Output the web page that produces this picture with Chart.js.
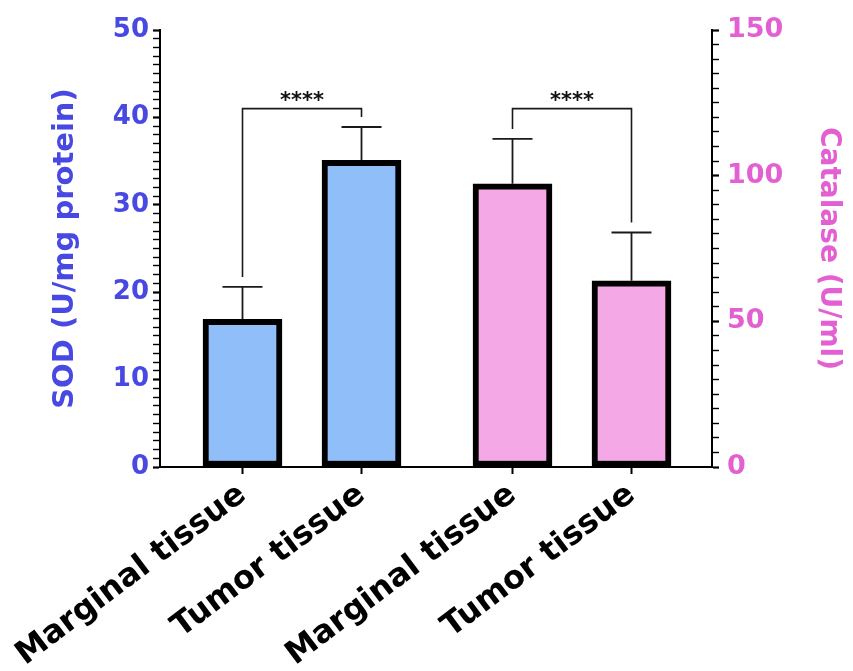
<!DOCTYPE html>
<html>
<head>
<meta charset="utf-8">
<script src="https://cdn.jsdelivr.net/npm/chart.js@4.4.1/dist/chart.umd.min.js"></script>
<style>
  html, body { margin: 0; padding: 0; background: #fff; }
  #wrap { width: 853px; height: 671px; position: relative; }
</style>
</head>
<body>
<div id="wrap"><canvas id="c"></canvas></div>
<script>
// data
const tissueLabels = ['Marginal tissue', 'Tumor tissue', 'Marginal tissue', 'Tumor tissue'];
const slotPositions = [0.825, 2.015, 3.525, 4.715]; // where each bar sits on the x axis
const sodMean = [16.9, 35.1];
const sodSD = [3.7, 3.8];
const catalaseMean = [97.2, 63.9];
const catalaseSD = [15.4, 16.6];
const sigLabels = ['****', '****'];
const sigLevelSOD = 41;        // bracket height, left axis units
const sigLevelCatalase = 123;  // bracket height, right axis units

const BLUE = 'rgb(72,72,226)';
const PINK = 'rgb(226,96,210)';
const FONT = 'DejaVu Sans';

Chart.defaults.font.family = FONT;

// error bars (mean + SD, upper only)
const errorBars = {
    id: 'errorBars',
    afterDatasetsDraw(chart) {
        const ctx = chart.ctx;
        const sets = [[sodMean, sodSD, 'y'], [catalaseMean, catalaseSD, 'y2']];
        ctx.save();
        ctx.strokeStyle = '#1a1a1a';
        ctx.lineWidth = 1.8;
        sets.forEach(([mean, sd, axis], di) => {
            const meta = chart.getDatasetMeta(di);
            const ys = chart.scales[axis];
            mean.forEach((m, i) => {
                const x = meta.data[i].x;
                const yTop = ys.getPixelForValue(m + sd[i]);
                const yBar = ys.getPixelForValue(m);
                ctx.beginPath();
                ctx.moveTo(x, yBar);
                ctx.lineTo(x, yTop);
                ctx.moveTo(x - 20, yTop);
                ctx.lineTo(x + 20, yTop);
                ctx.stroke();
            });
        });
        ctx.restore();
    }
};

// significance brackets
const sigBrackets = {
    id: 'sigBrackets',
    afterDatasetsDraw(chart) {
        const ctx = chart.ctx;
        const sets = [
            [sodMean, sodSD, 'y', sigLevelSOD],
            [catalaseMean, catalaseSD, 'y2', sigLevelCatalase]
        ];
        ctx.save();
        ctx.strokeStyle = '#1a1a1a';
        ctx.lineWidth = 1.6;
        ctx.fillStyle = '#111';
        ctx.font = 'bold 21px ' + FONT;
        ctx.textAlign = 'center';
        ctx.textBaseline = 'alphabetic';
        sets.forEach(([mean, sd, axis, level], di) => {
            const meta = chart.getDatasetMeta(di);
            const ys = chart.scales[axis];
            const yb = ys.getPixelForValue(level);
            const x0 = meta.data[0].x, x1 = meta.data[1].x;
            const e0 = ys.getPixelForValue(mean[0] + sd[0]) - 10;
            const e1 = ys.getPixelForValue(mean[1] + sd[1]) - 10;
            ctx.beginPath();
            ctx.moveTo(x0, e0);
            ctx.lineTo(x0, yb);
            ctx.lineTo(x1, yb);
            ctx.lineTo(x1, e1);
            ctx.stroke();
            ctx.fillText(sigLabels[di], (x0 + x1) / 2, yb - 2);
        });
        ctx.restore();
    }
};

new Chart(document.getElementById('c'), {
    type: 'bar',
    data: {
        datasets: [
            {
                label: 'SOD',
                data: sodMean.map((v, i) => ({ x: slotPositions[i], y: v })),
                yAxisID: 'y',
                backgroundColor: 'rgb(144,190,248)',
                borderColor: '#000',
                borderWidth: 6,
                borderSkipped: false
            },
            {
                label: 'Catalase',
                data: catalaseMean.map((v, i) => ({ x: slotPositions[i + 2], y: v })),
                yAxisID: 'y2',
                backgroundColor: 'rgb(245,168,230)',
                borderColor: '#000',
                borderWidth: 6,
                borderSkipped: false
            }
        ]
    },
    options: {
        responsive: true,
        maintainAspectRatio: false,
        animation: false,
        grouped: false,
        barThickness: 79,
        layout: { padding: { top: 30, left: 0, right: 0, bottom: 0 } },
        plugins: {
            legend: { display: false },
            tooltip: { enabled: false }
        },
        scales: {
            x: {
                type: 'linear',
                min: 0,
                max: 5.52,
                offset: false,
                afterBuildTicks: s => { s.ticks = slotPositions.map(v => ({ value: v })); },
                afterFit: s => { s.height = 204; s.paddingLeft = 0; s.paddingRight = 0; },
                ticks: {
                    autoSkip: false,
                    minRotation: 37,
                    maxRotation: 37,
                    padding: 2,
                    color: '#000',
                    font: { size: 32, weight: 'bold' },
                    callback: (v, i) => tissueLabels[i]
                },
                grid: { offset: false, drawOnChartArea: false, tickLength: 7, tickWidth: 2, tickColor: '#000' },
                border: { color: '#000', width: 2 }
            },
            y: {
                position: 'left',
                min: 0,
                max: 50,
                afterFit: s => { s.width = 160; },
                ticks: {
                    stepSize: 1,
                    autoSkip: false,
                    padding: 4,
                    color: BLUE,
                    font: { size: 26, weight: 'bold' },
                    callback: v => (v % 10 === 0 ? v : '')
                },
                grid: {
                    drawOnChartArea: false,
                    tickLength: 7,
                    tickColor: '#000',
                    tickWidth: c => (c.tick && c.tick.value % 10 === 0 ? 2.2 : 1.4)
                },
                border: { color: '#000', width: 2 },
                title: {
                    display: true,
                    text: 'SOD (U/mg protein)',
                    color: BLUE,
                    font: { size: 29, weight: 'bold' },
                    padding: { top: 48, bottom: 0 }
                }
            },
            y2: {
                position: 'right',
                min: 0,
                max: 150,
                afterFit: s => { s.width = 141; },
                ticks: {
                    stepSize: 5,
                    autoSkip: false,
                    padding: 8,
                    color: PINK,
                    font: { size: 27, weight: 'bold' },
                    callback: v => (v % 50 === 0 ? v : '')
                },
                grid: {
                    drawOnChartArea: false,
                    tickLength: 7,
                    tickColor: '#000',
                    tickWidth: c => (c.tick && c.tick.value % 50 === 0 ? 2.2 : 1.4)
                },
                border: { color: '#000', width: 2 },
                title: {
                    display: true,
                    text: 'Catalase (U/ml)',
                    color: PINK,
                    font: { size: 28, weight: 'bold' },
                    padding: { top: 8, bottom: 0 }
                }
            }
        }
    },
    plugins: [errorBars, sigBrackets]
});
</script>
</body>
</html>
